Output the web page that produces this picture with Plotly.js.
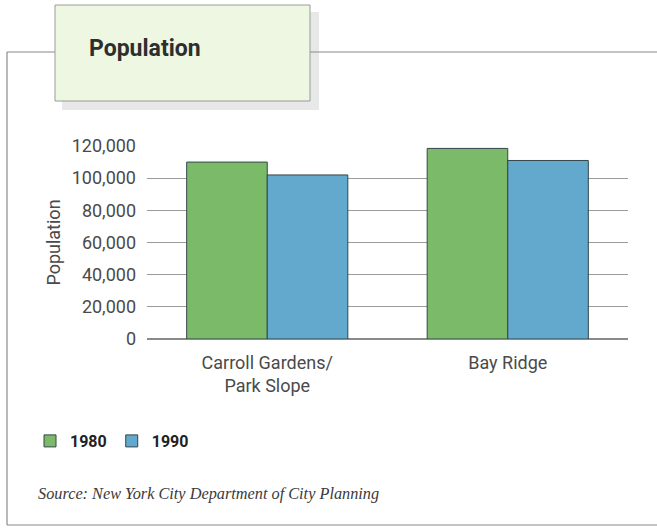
<!DOCTYPE html>
<html>
<head>
<meta charset="utf-8">
<script src="https://cdn.plot.ly/plotly-3.0.1.min.js"></script>
<style>
html,body{margin:0;padding:0;background:#fff;}
#chart{width:657px;height:529px;}
</style>
</head>
<body>
<div id="chart"></div>
<script>
const categories = ["Carroll Gardens/<br>Park Slope", "Bay Ridge"];
const series1980 = [110000, 118500];
const series1990 = [102000, 111000];
const seriesNames = ["1980", "1990"];
const yTickVals = [0, 20000, 40000, 60000, 80000, 100000, 120000];
const yTickText = ["0", "20,000", "40,000", "60,000", "80,000", "100,000", "120,000"];

const W = 657, H = 529;
const L = 147, R = 628, T = 146, B = 339;
const px = x => (x - L) / (R - L);
const py = y => (B - y) / (B - T);

const sans = "Roboto, 'Liberation Sans', sans-serif";
const green = "#7aba68", blue = "#63a9cd", edge = "#34454a";

const traces = [
  {type: "bar", name: seriesNames[0], x: categories, y: series1980,
   marker: {color: green, line: {color: edge, width: 1}}},
  {type: "bar", name: seriesNames[1], x: categories, y: series1990,
   marker: {color: blue, line: {color: edge, width: 1}}}
];

const lineStyle = {color: "#8a8a8a", width: 1.2};
const layout = {
  width: W, height: H,
  margin: {l: L, r: W - R, t: T, b: H - B, pad: 0},
  paper_bgcolor: "#ffffff", plot_bgcolor: "#ffffff",
  barmode: "group", bargap: 0.33, bargroupgap: 0,
  showlegend: true,
  legend: {orientation: "h", x: px(30), y: py(441), yanchor: "middle", xanchor: "left",
           font: {family: sans, size: 16, color: "#222", weight: "bold"},
           itemwidth: 30, tracegroupgap: 0, bgcolor: "rgba(0,0,0,0)"},
  xaxis: {tickfont: {family: sans, size: 18, color: "#4a4a4a"}, ticklabelstandoff: 11,
          showline: false, showgrid: false, ticks: "", fixedrange: true},
  yaxis: {range: [0, 120000], tickvals: yTickVals, ticktext: yTickText,
          tickfont: {family: sans, size: 18, color: "#4a4a4a"},
          title: {text: "Population", font: {family: sans, size: 18, color: "#4a4a4a"}, standoff: 6},
          showgrid: true, gridcolor: "#9a9a9a", gridwidth: 1,
          zeroline: true, zerolinecolor: "#8a8a8a", zerolinewidth: 1.2,
          ticks: "", ticklabelstandoff: 10, showline: false, fixedrange: true},
  shapes: [
    {type: "line", xref: "paper", yref: "paper", x0: px(7), y0: py(52), x1: px(55), y1: py(52), line: lineStyle},
    {type: "line", xref: "paper", yref: "paper", x0: px(310), y0: py(52), x1: px(662), y1: py(52), line: lineStyle},
    {type: "line", xref: "paper", yref: "paper", x0: px(7), y0: py(52), x1: px(7), y1: py(525), line: lineStyle},
    {type: "line", xref: "paper", yref: "paper", x0: px(7), y0: py(525), x1: px(662), y1: py(525), line: lineStyle},
    {type: "rect", xref: "paper", yref: "paper", x0: px(62), y0: py(12), x1: px(319), y1: py(110),
     fillcolor: "#e8e8e8", line: {width: 0}, layer: "below"},
    {type: "rect", xref: "paper", yref: "paper", x0: px(55), y0: py(5), x1: px(310), y1: py(101),
     fillcolor: "#eef7e1", line: {color: "#9a9a9a", width: 1}}
  ],
  annotations: [
    {text: "<b>Population</b>", xref: "paper", yref: "paper", x: px(87), y: py(48),
     xanchor: "left", yanchor: "middle", showarrow: false,
     font: {family: sans, size: 23, color: "#2e2e2e"}},
    {text: "<i>Source: New York City Department of City Planning</i>", xref: "paper", yref: "paper",
     x: px(36), y: py(493), xanchor: "left", yanchor: "middle", showarrow: false,
     font: {family: "'Liberation Serif', 'DejaVu Serif', serif", size: 16.3, color: "#3a3a3a"}}
  ]
};

Plotly.newPlot("chart", traces, layout, {displayModeBar: false, staticPlot: true});
</script>
</body>
</html>
